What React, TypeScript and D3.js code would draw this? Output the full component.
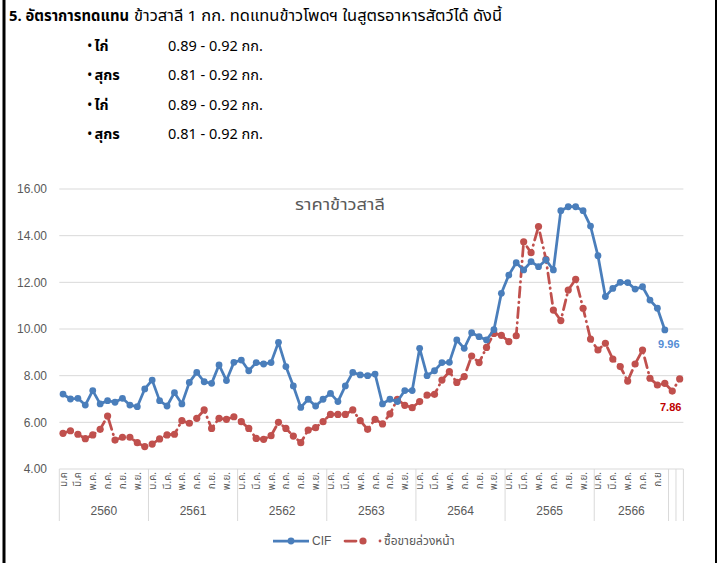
import React from "react";
import * as d3 from "d3";

// ---- data ----
const years = ["2560", "2561", "2562", "2563", "2564", "2565", "2566"];
const monthNames = ["ม.ค.", "ก.พ.", "มี.ค.", "เม.ย.", "พ.ค.", "มิ.ย.", "ก.ค.", "ส.ค.", "ก.ย.", "ต.ค.", "พ.ย.", "ธ.ค."];
// months per year group on the axis (2566 only runs to ต.ค., two blank slots follow)
const monthsPerYear = [12, 12, 12, 12, 12, 12, 10];
const blankSlots = 2;
// a few labels in the source sheet have no trailing dot
const labelOverrides: Record<number, string> = { 0: "ม.ค", 2: "มี.ค", 80: "ก.ย" };

const yTicks = [4, 6, 8, 10, 12, 14, 16];

const cif = [
  7.21, 7.0, 7.03, 6.74, 7.36, 6.79, 6.93, 6.86, 7.03, 6.74, 6.67, 7.43,
  7.81, 6.93, 6.7, 7.27, 6.79, 7.71, 8.14, 7.74, 7.67, 8.46, 7.79, 8.57,
  8.67, 8.21, 8.56, 8.5, 8.56, 9.43, 8.39, 7.56, 6.64, 6.99, 6.7, 6.99,
  7.24, 6.89, 7.56, 8.14, 8.03, 8.0, 8.07, 6.79, 6.99, 6.89, 7.36, 7.36,
  9.17, 8.0, 8.21, 8.56, 8.57, 9.53, 9.17, 9.84, 9.67, 9.53, 9.97, 11.53,
  12.31, 12.84, 12.53, 12.89, 12.67, 12.96, 12.53, 15.07, 15.24, 15.24, 15.07, 14.41,
  13.14, 11.39, 11.74, 12.0, 11.99, 11.71, 11.81, 11.24, 10.89, 9.96,
];

const futures = [
  5.53, 5.64, 5.49, 5.3, 5.46, 5.7, 6.27, 5.24, 5.36, 5.36, 5.13, 4.96,
  5.07, 5.29, 5.46, 5.49, 6.07, 5.96, 6.17, 6.53, 5.74, 6.17, 6.13, 6.24,
  6.03, 5.74, 5.31, 5.27, 5.43, 6.0, 5.74, 5.41, 5.13, 5.67, 5.77, 6.03,
  6.34, 6.34, 6.34, 6.53, 6.07, 5.7, 6.13, 5.93, 6.36, 6.99, 6.73, 6.63,
  6.89, 7.17, 7.2, 7.81, 8.17, 7.71, 7.96, 8.84, 8.56, 9.21, 9.81, 9.73,
  9.46, 9.71, 13.74, 13.27, 14.39, 12.99, 10.81, 10.36, 11.67, 12.13, 10.89, 9.57,
  9.1, 9.39, 8.71, 8.39, 7.77, 8.5, 9.1, 7.89, 7.6, 7.67, 7.34, 7.86,
];

const bullets = [
  { name: "ไก่", value: "0.89 - 0.92 กก." },
  { name: "สุกร", value: "0.81 - 0.92 กก." },
  { name: "ไก่", value: "0.89 - 0.92 กก." },
  { name: "สุกร", value: "0.81 - 0.92 กก." },
];

const BLUE = "#4a7ebb";
const RED = "#c0504d";
const GREY = "#595959";
const GRID = "#d9d9d9";
const THAI = "Tahoma, 'Noto Sans Thai', 'Noto Sans', sans-serif";
const NUM = "'Liberation Sans', Arial, sans-serif";

export default function App() {
  const width = 717;
  const height = 563;
  const plot = { left: 59.3, right: 683.4, top: 189, bottom: 469 };

  // build category list
  const categories: { year: string; label: string }[] = [];
  years.forEach((y, yi) => {
    for (let m = 0; m < monthsPerYear[yi]; m++) {
      categories.push({ year: y, label: monthNames[m] });
    }
  });
  for (let b = 0; b < blankSlots; b++) categories.push({ year: "", label: "" });
  const idx = categories.map((_, i) => i);

  const x = d3.scaleBand<number>().domain(idx).range([plot.left, plot.right]).padding(0);
  const cx = (i: number) => (x(i) as number) + x.bandwidth() / 2;
  const y = d3.scaleLinear().domain([4, 16]).range([plot.bottom, plot.top]);

  const line = d3
    .line<number>()
    .x((_, i) => cx(i))
    .y((d) => y(d));

  // group boundaries for the two level axis
  const groups: { year: string; start: number; end: number }[] = [];
  let pos = 0;
  years.forEach((yr, yi) => {
    groups.push({ year: yr, start: pos, end: pos + monthsPerYear[yi] });
    pos += monthsPerYear[yi];
  });
  for (let b = 0; b < blankSlots; b++) {
    groups.push({ year: "", start: pos, end: pos + 1 });
    pos += 1;
  }
  const boundaries = [plot.left, ...groups.map((g) => (x(g.end - 1) as number) + x.bandwidth())];

  const lastCif = cif.length - 1;
  const lastFut = futures.length - 1;

  return (
    <svg
      width={width}
      height={height}
      style={{ position: "absolute", left: 0, top: 0, background: "#fff" }}
    >
      {/* slide borders */}
      <rect x={2.5} y={0} width={3} height={height} fill="#000" />
      <rect x={715} y={0} width={2} height={height} fill="#000" />

      {/* heading text */}
      <g fontFamily={THAI} fontSize={15} fill="#000">
        <text x={9} y={21} fontWeight="bold" textLength={120} lengthAdjust="spacingAndGlyphs">
          5. อัตราการทดแทน
        </text>
        <text x={134} y={21} textLength={368} lengthAdjust="spacingAndGlyphs">
          ข้าวสาลี 1 กก. ทดแทนข้าวโพดฯ ในสูตรอาหารสัตว์ได้ ดังนี้
        </text>
      </g>
      {bullets.map((b, i) => (
        <g key={i} fontFamily={THAI} fontSize={14.5} fill="#000">
          <text x={87} y={51 + i * 29.3}>
            •<tspan dx={2} fontWeight="bold">{b.name}</tspan>
          </text>
          <text x={168} y={51 + i * 29.3}>{b.value}</text>
        </g>
      ))}

      {/* gridlines + y labels */}
      {yTicks.map((t) => (
        <g key={t}>
          {t > 4 && (
            <line x1={plot.left} x2={plot.right} y1={y(t)} y2={y(t)} stroke={GRID} strokeWidth={1} />
          )}
          <text
            x={47}
            y={y(t)}
            dy="0.35em"
            textAnchor="end"
            fontFamily={NUM}
            fontSize={12}
            fill={GREY}
          >
            {t.toFixed(2)}
          </text>
        </g>
      ))}

      {/* category axis */}
      <line x1={plot.left} x2={plot.right} y1={plot.bottom} y2={plot.bottom} stroke={GRID} />
      {boundaries.map((bx, i) => (
        <line key={i} x1={bx} x2={bx} y1={plot.bottom} y2={521} stroke={GRID} />
      ))}
      {categories.map((c, i) =>
        i % 2 === 0 && c.label ? (
          <text
            key={i}
            transform={`translate(${cx(i) + 3.5},${plot.bottom + 3}) rotate(-90)`}
            textAnchor="end"
            fontFamily={THAI}
            fontSize={10}
            fill={GREY}
          >
            {labelOverrides[i] ?? c.label}
          </text>
        ) : null
      )}
      {groups
        .filter((g) => g.year)
        .map((g) => (
          <text
            key={g.year}
            x={((x(g.start) as number) + (x(g.end - 1) as number) + x.bandwidth()) / 2}
            y={511}
            dy="0.35em"
            textAnchor="middle"
            fontFamily={NUM}
            fontSize={12}
            fill={GREY}
          >
            {g.year}
          </text>
        ))}

      {/* title */}
      <text
        x={295}
        y={204}
        dy="0.35em"
        fontFamily={THAI}
        fontSize={16}
        fill={GREY}
        textLength={90}
        lengthAdjust="spacingAndGlyphs"
      >
        ราคาข้าวสาลี
      </text>

      {/* series: futures (dash dot) */}
      <path
        d={line(futures) ?? ""}
        fill="none"
        stroke={RED}
        strokeWidth={2.75}
        strokeDasharray="10 5 0.5 5"
        strokeLinecap="round"
      />
      {futures.map((v, i) => (
        <circle key={i} cx={cx(i)} cy={y(v)} r={3.6} fill={RED} />
      ))}

      {/* series: CIF */}
      <path d={line(cif) ?? ""} fill="none" stroke={BLUE} strokeWidth={2.75} strokeLinejoin="round" />
      {cif.map((v, i) => (
        <circle key={i} cx={cx(i)} cy={y(v)} r={3.4} fill={BLUE} />
      ))}

      {/* end labels */}
      <text
        x={cx(lastCif) + 4}
        y={y(cif[lastCif]) + 14}
        dy="0.35em"
        textAnchor="middle"
        fontFamily={NUM}
        fontSize={11}
        fontWeight="bold"
        fill="#558ed5"
      >
        {cif[lastCif].toFixed(2)}
      </text>
      <text
        x={cx(lastFut) - 9}
        y={y(futures[lastFut]) + 28}
        dy="0.35em"
        textAnchor="middle"
        fontFamily={NUM}
        fontSize={11}
        fontWeight="bold"
        fill="#c00000"
      >
        {futures[lastFut].toFixed(2)}
      </text>

      {/* legend */}
      <g transform="translate(0,541)">
        <line x1={273} x2={309} y1={0} y2={0} stroke={BLUE} strokeWidth={2.75} />
        <circle cx={291} cy={0} r={3.4} fill={BLUE} />
        <text x={312} y={0} dy="0.35em" fontFamily={NUM} fontSize={12} fill={GREY}>
          CIF
        </text>
        <line x1={345} x2={356} y1={0} y2={0} stroke={RED} strokeWidth={2.75} strokeLinecap="round" />
        <circle cx={363} cy={0} r={3.6} fill={RED} />
        <circle cx={380} cy={0} r={1.4} fill={RED} />
        <text x={384} y={0} dy="0.35em" fontFamily={THAI} fontSize={12} fill={GREY}>
          ซื้อขายล่วงหน้า
        </text>
      </g>
    </svg>
  );
}
